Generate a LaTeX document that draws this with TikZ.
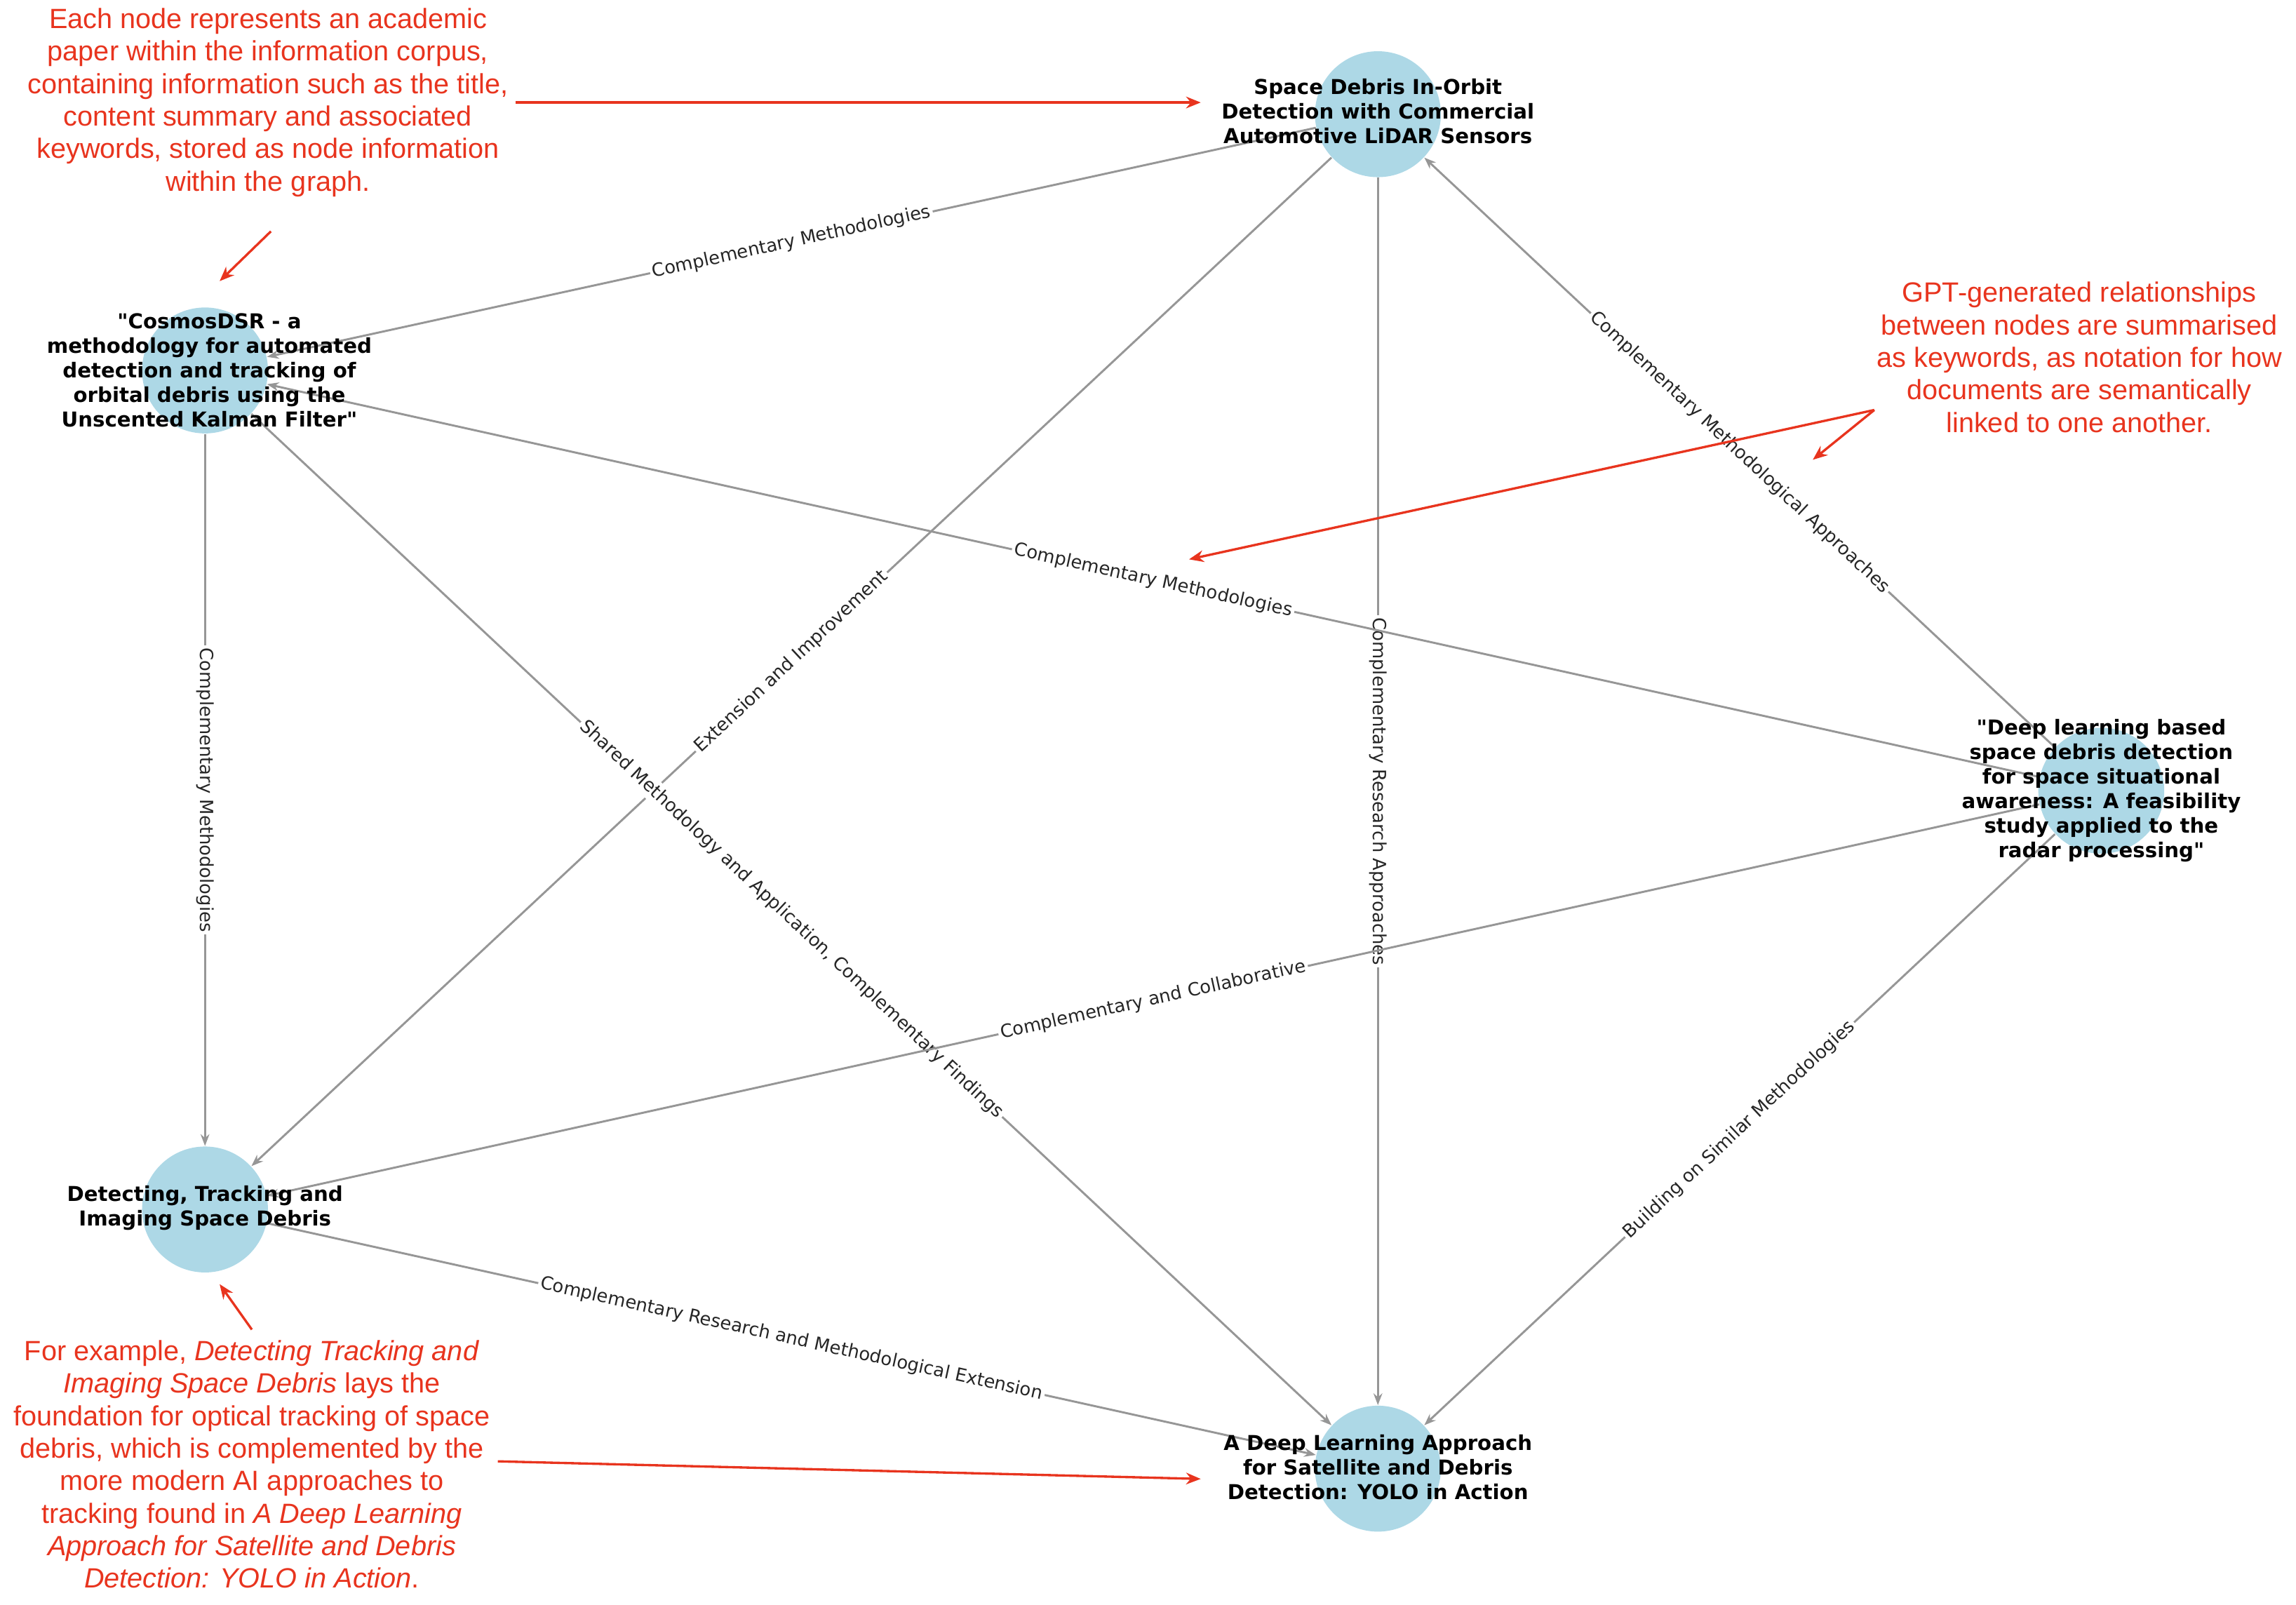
\documentclass[tikz,border=0pt]{standalone}
\usepackage{fontspec}
\setmainfont{Liberation Sans}
\newfontfamily\dvs{DejaVu Sans}
\usetikzlibrary{arrows.meta}
\definecolor{nodeblue}{RGB}{173,216,230}
\definecolor{annred}{RGB}{232,52,30}
\definecolor{edgegray}{RGB}{150,150,150}
\begin{document}
\begin{tikzpicture}[x=0.5pt,y=-0.5pt,
  paper/.style={circle,fill=nodeblue,minimum size=43pt,inner sep=0pt},
  ptxt/.style={align=center,font=\dvs\bfseries\fontsize{7}{8.4}\selectfont,text=black},
  rel/.style={draw=edgegray,line width=0.7pt,-{Stealth[length=4pt,width=3pt]}},
  lab/.style={sloped,fill=white,inner sep=0.8pt,font=\dvs\fontsize{6.2}{7}\selectfont,text=black!85},
  ann/.style={align=center,font=\fontsize{9.5}{11.1}\selectfont,text=annred},
  aarr/.style={draw=annred,line width=0.8pt,-{Stealth[length=5pt,width=4pt]}}]
\useasboundingbox (0,0) rectangle (1568,1096);
\node[paper] (A) at (941,78) {};
\node[paper] (B) at (140,253) {};
\node[paper] (C) at (1435,540) {};
\node[paper] (D) at (140,826) {};
\node[paper] (E) at (941,1003) {};
\path[rel] (A) -- node[lab,pos=0.5]{Complementary Methodologies} (B);
\path[rel] (A) -- node[lab,pos=0.5]{Extension and Improvement} (D);
\path[rel] (A) -- node[lab,pos=0.5]{Complementary Research Approaches} (E);
\path[rel] (C) -- node[lab,pos=0.5]{Complementary Methodological Approaches} (A);
\path[rel] (C) -- node[lab,pos=0.5]{Complementary Methodologies} (B);
\path[rel] (B) -- node[lab,pos=0.5]{Complementary Methodologies} (D);
\path[rel] (B) -- node[lab,pos=0.5]{Shared Methodology and Application, Complementary Findings} (E);
\path[rel] (C) -- node[lab,pos=0.5]{Complementary and Collaborative} (D);
\path[rel] (C) -- node[lab,pos=0.5]{Building on Similar Methodologies} (E);
\path[rel] (D) -- node[lab,pos=0.5]{Complementary Research and Methodological Extension} (E);
\node[ptxt] (tA) at (941,76) {Space Debris In-Orbit\\Detection with Commercial\\Automotive LiDAR Sensors};
\node[ptxt] (tB) at (143,253) {"CosmosDSR - a\\methodology for automated\\detection and tracking of\\orbital debris using the\\Unscented Kalman Filter"};
\node[ptxt] (tC) at (1435,540) {"Deep learning based\\space debris detection\\for space situational\\awareness: A feasibility\\study applied to the\\radar processing"};
\node[ptxt] (tD) at (140,825) {Detecting, Tracking and\\Imaging Space Debris};
\node[ptxt] (tE) at (941,1002) {A Deep Learning Approach\\for Satellite and Debris\\Detection: YOLO in Action};
\node[ann] (n1) at (183,70) {Each node represents an academic\\paper within the information corpus,\\containing information such as the title,\\content summary and associated\\keywords, stored as node information\\within the graph.};
\node[ann] (n2) at (1420,244) {GPT-generated relationships\\between nodes are summarised\\as keywords, as notation for how\\documents are semantically\\linked to one another.};
\node[ann] (n3) at (172,1000) {For example, \textit{Detecting Tracking and}\\\textit{Imaging Space Debris} lays the\\foundation for optical tracking of space\\debris, which is complemented by the\\more modern AI approaches to\\tracking found in \textit{A Deep Learning}\\\textit{Approach for Satellite and Debris}\\\textit{Detection: YOLO in Action}.};
\coordinate (a1s) at (352,70); \coordinate (a1e) at (820,70);
\coordinate (a2s) at (185,158); \coordinate (a2e) at (150,192);
\coordinate (b0) at (1280,280); \coordinate (b1) at (812,382); \coordinate (b2) at (1238,314);
\coordinate (c1s) at (172,908); \coordinate (c1e) at (150,877);
\coordinate (c2s) at (340,998); \coordinate (c2e) at (820,1010);
\draw[aarr] (a1s) -- (a1e);
\draw[aarr] (a2s) -- (a2e);
\draw[aarr] (b0) -- (b1);
\draw[aarr] (b0) -- (b2);
\draw[aarr] (c1s) -- (c1e);
\draw[aarr] (c2s) -- (c2e);
\end{tikzpicture}
\end{document}
